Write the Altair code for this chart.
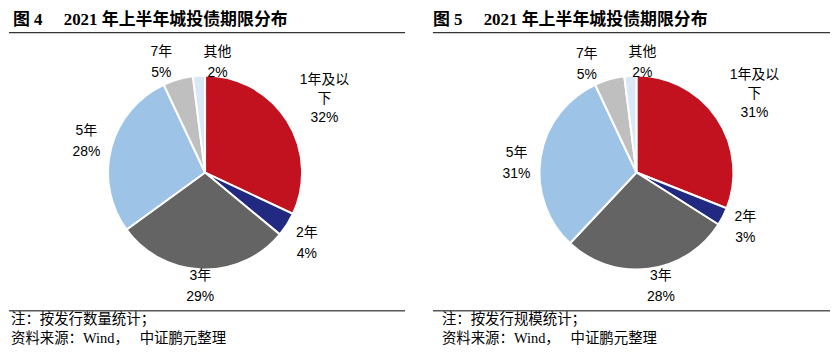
import altair as alt
import pandas as pd

categories = ["1年及以下", "2年", "3年", "5年", "7年", "其他"]
label_names = ["1年及以\n下", "2年", "3年", "5年", "7年", "其他"]
shares_fig4 = [32, 4, 29, 28, 5, 2]
shares_fig5 = [31, 3, 28, 31, 5, 2]
colors = ["#C3121F", "#212A80", "#646464", "#9DC3E6", "#BFBFBF", "#DAE8F5"]

title4 = "图 4\u2003\u00a02021 年上半年城投债期限分布"
title5 = "图 5\u2003\u00a02021 年上半年城投债期限分布"
note4 = "注：按发行数量统计；\n资料来源：Wind，\u2002\u00a0中证鹏元整理"
note5 = "注：按发行规模统计；\n资料来源：Wind，\u2002\u00a0中证鹏元整理"

SANS = "'Liberation Sans', 'Noto Sans CJK SC'"
SERIF = "'Liberation Serif', 'Noto Sans CJK SC'"
H = 341

# label placement nudges (radius, dx, dy, lineHeight) per panel
nudge4 = {"1年及以下": (141, 1, -17, 19), "2年": (120, 1, -3.5, 21), "3年": (120, -1, -16, 21),
          "5年": (120, -3, -12, 21), "7年": (120, -10.5, -6, 21), "其他": (120, 20, -1, 21)}
nudge5 = {"1年及以下": (141, 2, -19, 19), "2年": (120, 2.5, -9.5, 21), "3年": (120, 9.5, -15, 21),
          "5年": (120, -2, -1, 21), "7年": (120, -16.5, -4, 21), "其他": (120, 13.5, -1, 21)}


def panel(values, title, note, width, cx, title_x, note_x, nudge):
    df = pd.DataFrame({"idx": list(range(len(categories))), "cat": categories,
                       "name": label_names, "value": values})
    base = alt.Chart(df)
    cy = 164.5
    arc = base.mark_arc(outerRadius=97.5, stroke="white", strokeWidth=2).encode(
        theta=alt.Theta("value:Q", stack=True),
        order=alt.Order("idx:Q"),
        color=alt.Color("cat:N", scale=alt.Scale(domain=categories, range=colors), legend=None),
        x=alt.value(cx), y=alt.value(cy),
    )
    lab = base.transform_stack(
        stack="value", groupby=[], as_=["v0", "v1"], sort=[alt.SortField("idx")]
    ).transform_calculate(
        mid="(datum.v0 + datum.v1) / 2",
        label="datum.name + '\\n' + datum.value + '%'",
    )

    layers = [arc]
    for c in categories:
        r, dx, dy, lh = nudge[c]
        layers.append(
            lab.transform_filter(alt.FieldEqualPredicate(field="cat", equal=c)).mark_text(
                radius=r, lineHeight=lh, dx=dx, dy=dy, font=SANS, fontSize=14,
                color="#000000", lineBreak="\n", align="center", baseline="middle",
            ).encode(
                theta=alt.Theta("mid:Q"), text="label:N",
                x=alt.value(cx), y=alt.value(cy),
            )
        )

    one = pd.DataFrame({"k": [0]})
    rule_top = alt.Chart(one).mark_rule(color="black", strokeWidth=1).encode(
        x=alt.value(0), x2=alt.value(width), y=alt.value(24))
    rule_bot = alt.Chart(one).mark_rule(color="black", strokeWidth=1).encode(
        x=alt.value(0), x2=alt.value(width), y=alt.value(303.5))
    ttl = alt.Chart(pd.DataFrame({"t": [title]})).mark_text(
        align="left", baseline="middle", font=SERIF, fontSize=17, fontWeight="bold", color="black"
    ).encode(x=alt.value(title_x), y=alt.value(11), text="t:N")
    nt = alt.Chart(pd.DataFrame({"t": [note]})).mark_text(
        align="left", baseline="middle", font=SERIF, fontSize=14.5, color="black",
        lineBreak="\n", lineHeight=19,
    ).encode(x=alt.value(note_x), y=alt.value(312.5), text="t:N")

    layers += [rule_top, rule_bot, ttl, nt]
    return alt.layer(*layers).properties(width=width, height=H)


left = panel(shares_fig4, title4, note4, 398, 197, 4, 2, nudge4)
right = panel(shares_fig5, title5, note5, 399, 204.5, 0, 9, nudge5)

chart = alt.hconcat(left, right, spacing=26).properties(padding=0).configure_view(stroke=None)

chart.save("out.html", embed_options={"renderer": "svg", "actions": False})
